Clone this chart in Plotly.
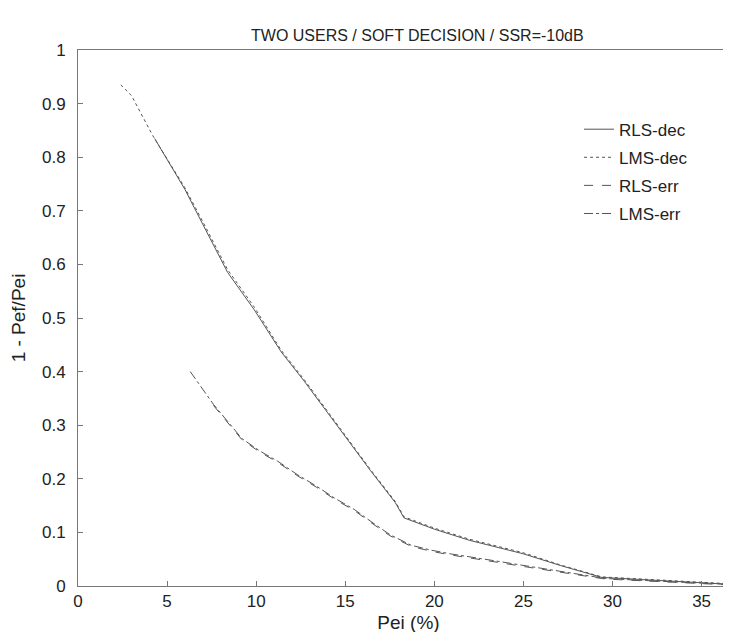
import plotly.graph_objects as go

# Pei (%) and 1 - Pef/Pei
rls_dec_x = [4.3, 5.0, 6.0, 7.0, 8.4, 9.9, 11.4, 12.7, 13.8, 15.1, 16.4, 17.8, 18.3, 20.0, 22.0, 25.0, 27.1, 29.4, 32.0, 35.0, 37.2]
rls_dec_y = [0.835, 0.795, 0.74, 0.675, 0.585, 0.515, 0.437, 0.382, 0.332, 0.274, 0.216, 0.156, 0.127, 0.106, 0.085, 0.06, 0.038, 0.016, 0.012, 0.006, 0.002]

lms_dec_x = [2.4, 3.0, 4.2, 5.0, 6.0, 7.0, 8.4, 9.9, 11.4, 12.7, 13.8, 15.1, 16.4, 17.8, 18.3, 20.0, 22.0, 25.0, 27.1, 29.4, 32.0, 35.0, 37.2]
lms_dec_y = [0.935, 0.915, 0.84, 0.798, 0.743, 0.68, 0.59, 0.52, 0.44, 0.385, 0.335, 0.276, 0.218, 0.158, 0.129, 0.108, 0.087, 0.062, 0.039, 0.017, 0.013, 0.007, 0.003]

rls_err_x = [7.6, 8.4, 9.2, 10.2, 11.2, 12.3, 13.4, 14.4, 15.5, 16.5, 17.5, 18.7, 19.8, 20.9, 22.3, 23.4, 24.7, 26.0, 27.1, 28.4, 29.6, 32.0, 35.0, 37.2]
rls_err_y = [0.337, 0.305, 0.273, 0.25, 0.231, 0.206, 0.184, 0.162, 0.141, 0.117, 0.094, 0.074, 0.065, 0.058, 0.05, 0.045, 0.038, 0.031, 0.025, 0.019, 0.013, 0.009, 0.004, 0.001]

lms_err_x = [6.3, 7.6, 8.4, 9.2, 10.2, 11.2, 12.3, 13.4, 14.4, 15.5, 16.5, 17.5, 18.7, 19.8, 20.9, 22.3, 23.4, 24.7, 26.0, 27.1, 28.4, 29.6, 32.0, 35.0, 37.2]
lms_err_y = [0.40, 0.339, 0.307, 0.275, 0.252, 0.233, 0.208, 0.186, 0.164, 0.143, 0.119, 0.096, 0.076, 0.067, 0.06, 0.052, 0.047, 0.04, 0.033, 0.027, 0.021, 0.014, 0.010, 0.005, 0.002]

x_ticks = [0, 5, 10, 15, 20, 25, 30, 35]
y_ticks = [0, 0.1, 0.2, 0.3, 0.4, 0.5, 0.6, 0.7, 0.8, 0.9, 1]
y_tick_labels = ['0', '0.1', '0.2', '0.3', '0.4', '0.5', '0.6', '0.7', '0.8', '0.9', '1']

ink = '#555555'
frame = '#777777'
font = 'Liberation Sans, Arial, sans-serif'

def curve(x, y, name, dash):
    return go.Scatter(
        x = x,
        y = y,
        name = name,
        legendgroup = name,
        mode = 'lines',
        line = dict(color=ink, width=1, dash=dash),
    )

fig = go.Figure()
fig.add_trace(curve(rls_dec_x, rls_dec_y, 'RLS-dec', 'solid'))
fig.add_trace(curve(lms_dec_x, lms_dec_y, 'LMS-dec', 'dot'))
fig.add_trace(curve(rls_err_x, rls_err_y, 'RLS-err', 'dash'))
fig.add_trace(curve(lms_err_x, lms_err_y, 'LMS-err', 'dashdot'))

fig.update_layout(
    width = 731,
    height = 632,
    plot_bgcolor = 'white',
    paper_bgcolor = 'white',
    font = dict(family=font, size=16, color='#222222'),
    title = dict(
        text = 'TWO USERS / SOFT DECISION / SSR=-10dB',
        x = 0.56, xanchor = 'center',
        y = 0.957, yanchor = 'middle',
        font = dict(size=16),
    ),
    margin = dict(l=70, r=0, t=42, b=54),
    showlegend = True,
    legend = dict(
        x = 0.758, y = 0.885,
        xanchor = 'left', yanchor = 'top',
        bgcolor = 'rgba(0,0,0,0)',
        itemwidth = 30,
        tracegroupgap = 3,
        font = dict(size=17),
    ),
    xaxis = dict(
        range = [0, 37.1],
        tickvals = x_ticks,
        tickfont = dict(size=17),
        ticks = 'inside', ticklen = 5, tickcolor = frame,
        showline = True, linecolor = frame, linewidth = 1, mirror = True,
        showgrid = False, zeroline = False,
        title = dict(text='Pei (%)', standoff=5),
    ),
    yaxis = dict(
        range = [0, 1],
        tickvals = y_ticks,
        ticktext = y_tick_labels,
        tickfont = dict(size=17),
        ticks = 'inside', ticklen = 5, tickcolor = frame,
        ticklabelstandoff = 8,
        showline = True, linecolor = frame, linewidth = 1,
        showgrid = False, zeroline = False,
        title = dict(text='1 - Pef/Pei', standoff=12),
    ),
)

fig.write_html("out.html")
